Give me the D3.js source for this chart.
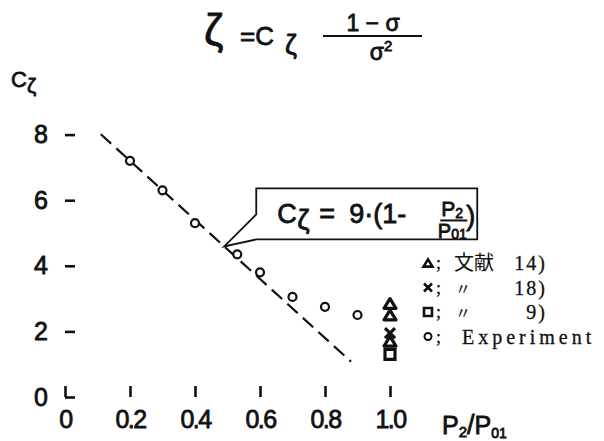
<!DOCTYPE html>
<html><head><meta charset="utf-8">
<script src="https://cdn.jsdelivr.net/npm/d3@7"></script>
<style>
body{margin:0;background:#fff}
svg{display:block}
.sans{font-family:"Liberation Sans","DejaVu Sans",sans-serif;fill:#111;stroke:#111;stroke-width:0.8px}
.serif{font-family:"Liberation Serif","DejaVu Serif",serif;fill:#111;stroke:#111;stroke-width:0.3px}
</style>
</head><body>
<svg id="chart" width="604" height="441"></svg>
<script>
// Axis ticks
const xTicks = [0, 0.2, 0.4, 0.6, 0.8, 1.0];
const xTickLabels = ["0", "0.2", "0.4", "0.6", "0.8", "1.0"];
const yTicks = [0, 2, 4, 6, 8];
const yTickLabels = ["0", "2", "4", "6", "8"];

// Experiment (circles)
const expRatio = [0.2, 0.3, 0.4, 0.53, 0.6, 0.7, 0.8, 0.9];
const expCzeta = [7.2, 6.3, 5.3, 4.35, 3.8, 3.05, 2.75, 2.5];
// 文献 14) (triangles)
const ref14Ratio = [1.0, 1.0, 1.0];
const ref14Czeta = [2.85, 2.5, 1.7];
// 文献 18) (crosses)
const ref18Ratio = [1.0];
const ref18Czeta = [1.95];
// 文献 9) (squares)
const ref9Ratio = [1.0];
const ref9Czeta = [1.3];

// Fitted relation Cζ = 9·(1 − P2/P01), drawn over this range of P2/P01
const fitCoef = 9;
const fitRange = [0.11, 0.88];
const calloutAt = 0.49;

const svg = d3.select("#chart");
const x = d3.scaleLinear().domain([0, 1]).range([65, 390]);
const y = d3.scaleLinear().domain([0, 8]).range([397, 134.6]);

// ---- axes: inward ticks, no domain lines ----
const yAxis = d3.axisLeft(y).tickValues(yTicks)
  .tickFormat((d, i) => yTickLabels[i]).tickSize(-10).tickPadding(17);
const xAxis = d3.axisBottom(x).tickValues(xTicks)
  .tickFormat((d, i) => xTickLabels[i]).tickSize(-11).tickPadding(13);

const gy = svg.append("g").attr("transform", `translate(${x(0)},0)`).call(yAxis);
const gx = svg.append("g").attr("transform", `translate(0,${y(0)})`).call(xAxis);
[gy, gx].forEach(g => {
  g.select(".domain").remove();
  g.selectAll(".tick line").attr("stroke", "#111").attr("stroke-width", 2.6);
  g.selectAll(".tick text").attr("class", "sans").attr("font-size", 25)
    .attr("fill", "#111");
});
gx.selectAll(".tick text").attr("letter-spacing", -1.5);
// the x-axis 0 tick starts at the corner so it joins the y-axis 0 tick
gx.selectAll(".tick").filter(d => d === 0).select("line").attr("y1", 0);

// ---- fitted dashed line ----
const line = d3.line().x(d => x(d)).y(d => y(fitCoef * (1 - d)));
svg.append("path").datum(fitRange).attr("d", line)
  .attr("fill", "none").attr("stroke", "#111").attr("stroke-width", 2.2)
  .attr("stroke-dasharray", "14,7");

// ---- marker shapes ----
function triPath(s) { const h = s * 0.8; return `M0,${-h/2}L${s/2},${h/2}L${-s/2},${h/2}Z`; }
function sqPath(s) { return `M${-s/2},${-s/2}h${s}v${s}h${-s}Z`; }
function xPath(s) { const a = s/2; return `M${-a},${-a}L${a},${a}M${a},${-a}L${-a},${a}`; }

// Experiment circles
svg.append("g").selectAll("circle").data(expRatio.map((r, i) => [r, expCzeta[i]]))
  .join("circle").attr("cx", d => x(d[0])).attr("cy", d => y(d[1])).attr("r", 4)
  .attr("fill", "#fff").attr("stroke", "#111").attr("stroke-width", 2.2);

// reference data at P2/P01 = 1.0
svg.append("g").selectAll("path").data(ref9Ratio.map((r, i) => [r, ref9Czeta[i]]))
  .join("path").attr("d", sqPath(10))
  .attr("transform", d => `translate(${x(d[0])},${y(d[1])})`)
  .attr("fill", "#fff").attr("stroke", "#111").attr("stroke-width", 3.2);
svg.append("g").selectAll("path").data(ref14Ratio.map((r, i) => [r, ref14Czeta[i]]))
  .join("path").attr("d", triPath(12))
  .attr("transform", d => `translate(${x(d[0])},${y(d[1])})`)
  .attr("fill", "#fff").attr("stroke", "#111").attr("stroke-width", 3.2)
  .attr("stroke-linejoin", "round");
svg.append("g").selectAll("path").data(ref18Ratio.map((r, i) => [r, ref18Czeta[i]]))
  .join("path").attr("d", xPath(10))
  .attr("transform", d => `translate(${x(d[0])},${y(d[1])})`)
  .attr("fill", "none").attr("stroke", "#111").attr("stroke-width", 3.2);

// ---- callout with the fitted formula ----
const tipX = x(calloutAt), tipY = y(fitCoef * (1 - calloutAt));
const bx0 = tipX + 32, bx1 = tipX + 253, by0 = tipY - 58, by1 = tipY - 7;
svg.append("path")
  .attr("d", `M${bx0},${by0 + 26}L${bx0},${by0}L${bx1},${by0}L${bx1},${by1}L${bx0},${by1}L${tipX},${tipY}Z`)
  .attr("fill", "#fff").attr("stroke", "#111").attr("stroke-width", 1.8)
  .attr("stroke-linejoin", "miter");
const call = svg.append("g").attr("class", "sans").attr("transform", `translate(${bx0},${by0})`);
call.append("text").attr("x", 21).attr("y", 35).attr("font-size", 27).text("C");
call.append("text").attr("x", 41).attr("y", 41).attr("font-size", 28).text("ζ");
call.append("text").attr("x", 63).attr("y", 35).attr("font-size", 27).text("=");
call.append("text").attr("x", 93).attr("y", 35).attr("font-size", 27).text("9·(1-");
call.append("text").attr("x", 196).attr("y", 28).attr("font-size", 21).attr("text-anchor", "middle")
  .html('P<tspan font-size="14" dy="2">2</tspan>');
call.append("line").attr("x1", 184).attr("x2", 211).attr("y1", 32).attr("y2", 32)
  .attr("stroke", "#111").attr("stroke-width", 2);
call.append("text").attr("x", 196).attr("y", 50).attr("font-size", 20).attr("text-anchor", "middle")
  .html('P<tspan font-size="14" dy="1">01</tspan>');
call.append("text").attr("x", 210).attr("y", 37).attr("font-size", 27).text(")");

// ---- title formula ----
const title = svg.append("g").attr("class", "sans");
title.append("text").attr("x", 204).attr("y", 45).attr("font-size", 44).text("ζ");
title.append("text").attr("x", 240).attr("y", 45).attr("font-size", 26).text("=C");
title.append("text").attr("x", 285).attr("y", 54).attr("font-size", 27).text("ζ");
title.append("text").attr("x", 373).attr("y", 31).attr("font-size", 23).attr("text-anchor", "middle").text("1 − σ");
title.append("line").attr("x1", 323).attr("x2", 422).attr("y1", 36).attr("y2", 36)
  .attr("stroke", "#111").attr("stroke-width", 2);
title.append("text").attr("x", 381).attr("y", 60).attr("font-size", 23).attr("text-anchor", "middle")
  .html('σ<tspan font-size="15" dy="-9">2</tspan>');

// ---- axis titles ----
const yt = svg.append("g").attr("class", "sans");
yt.append("text").attr("x", 11).attr("y", 87).attr("font-size", 22).text("C");
yt.append("text").attr("x", 27).attr("y", 93).attr("font-size", 21).text("ζ");

const xt = svg.append("g").attr("class", "sans");
xt.append("text").attr("x", 442).attr("y", 434).attr("font-size", 25)
  .html('P<tspan font-size="15" dy="3">2</tspan><tspan font-size="27" dy="-3">/</tspan>P<tspan font-size="14" dy="4">01</tspan>');

// ---- legend ----
const legend = [
  {shape: "tri", label: "文献", ref: "14)"},
  {shape: "x", label: "〃", ref: "18)"},
  {shape: "sq", label: "〃", ref: "9)"},
  {shape: "circ", label: "Experiment", ref: ""}
];
const lg = svg.append("g").attr("transform", "translate(0,263)");
legend.forEach((d, i) => {
  const row = lg.append("g").attr("transform", `translate(0,${i * 24.5})`);
  if (d.shape === "circ") {
    row.append("circle").attr("cx", 428).attr("cy", 0).attr("r", 3.5)
      .attr("fill", "#fff").attr("stroke", "#111").attr("stroke-width", 2);
  } else {
    const p = d.shape === "tri" ? triPath(9) : d.shape === "sq" ? sqPath(8) : xPath(8);
    row.append("path").attr("d", p).attr("transform", "translate(428,0)")
      .attr("fill", "none").attr("stroke", "#111").attr("stroke-width", 2.6);
  }
  row.append("text").attr("class", "serif").attr("x", 436).attr("y", 6).attr("font-size", 18).text(";");
  if (d.shape === "circ") {
    row.append("text").attr("class", "serif").attr("x", 462).attr("y", 7)
      .attr("font-size", 20).attr("letter-spacing", 4).text(d.label);
  } else {
    row.append("text").attr("x", d.label === "文献" ? 454 : 455).attr("y", 7)
      .attr("font-family", "'Noto Sans CJK JP',sans-serif").attr("fill", "#111")
      .attr("font-size", d.label === "文献" ? 20 : 16).text(d.label);
    row.append("text").attr("class", "serif").attr("x", 547).attr("y", 7)
      .attr("text-anchor", "end").attr("font-size", 20).attr("letter-spacing", 2).text(d.ref);
  }
});
</script>
</body></html>
